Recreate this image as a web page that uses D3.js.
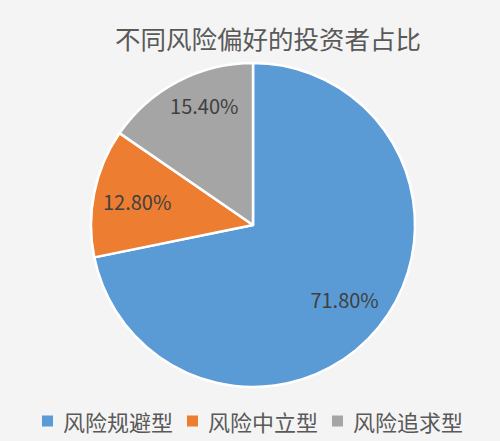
<!DOCTYPE html>
<html>
<head>
<meta charset="utf-8">
<script src="https://cdn.jsdelivr.net/npm/d3@7"></script>
<style>
  html, body { margin: 0; padding: 0; background: #f4f4f4; }
  text { font-family: "Noto Sans CJK SC", "Noto Sans", sans-serif; }
</style>
</head>
<body>
<svg id="chart"></svg>
<script>
const title = "不同风险偏好的投资者占比";
const categories = ["风险规避型", "风险中立型", "风险追求型"];
const values = [71.8, 12.8, 15.4];
const colors = ["#5b9bd5", "#ed7d31", "#a5a5a5"];

const width = 500, height = 441;
const cx = 253, cy = 225, radius = 162;

const svg = d3.select("#chart")
  .attr("width", width)
  .attr("height", height);

svg.append("rect")
  .attr("width", width)
  .attr("height", height)
  .attr("fill", "#f4f4f4");

svg.append("text")
  .attr("x", 268)
  .attr("y", 37)
  .attr("text-anchor", "middle")
  .attr("dominant-baseline", "central")
  .attr("font-size", 25.5)
  .attr("fill", "#595959")
  .text(title);

const data = categories.map((c, i) => ({ name: c, value: values[i] }));

const pie = d3.pie().sort(null).value(d => d.value);
const arc = d3.arc().innerRadius(0).outerRadius(radius);
const labelArc = d3.arc().innerRadius(radius * 0.73).outerRadius(radius * 0.73);

const color = d3.scaleOrdinal().domain(categories).range(colors);

const g = svg.append("g").attr("transform", "translate(" + cx + "," + cy + ")");

const arcs = pie(data);

g.selectAll("path")
  .data(arcs)
  .join("path")
  .attr("d", arc)
  .attr("fill", d => color(d.data.name))
  .attr("stroke", "#ffffff")
  .attr("stroke-width", 2.5)
  .attr("stroke-linejoin", "round");

g.selectAll("text.label")
  .data(arcs)
  .join("text")
  .attr("class", "label")
  .attr("transform", d => {
    let [x, y] = labelArc.centroid(d);
    // narrow slice near the top: nudge label outward so it sits like the original
    if (d.endAngle - d.startAngle < 1.1 && y < -60) {
      const k = 1.14;
      x *= k; y *= k;
      x += 14;
    }
    return "translate(" + x + "," + y + ")";
  })
  .attr("text-anchor", "middle")
  .attr("dominant-baseline", "central")
  .attr("font-family", "'Noto Sans', sans-serif")
  .attr("font-size", 20)
  .attr("fill", "#404040")
  .text(d => d.data.value.toFixed(2) + "%");

// legend
const legend = svg.append("g").attr("transform", "translate(42, 421)");
const item = legend.selectAll("g")
  .data(categories)
  .join("g")
  .attr("transform", (d, i) => "translate(" + (i * 145) + ",0)");

item.append("rect")
  .attr("x", 0)
  .attr("y", -5.5)
  .attr("width", 11)
  .attr("height", 11)
  .attr("fill", d => color(d));

item.append("text")
  .attr("x", 21)
  .attr("y", 0)
  .attr("dominant-baseline", "central")
  .attr("font-size", 22)
  .attr("fill", "#595959")
  .text(d => d);
</script>
</body>
</html>
